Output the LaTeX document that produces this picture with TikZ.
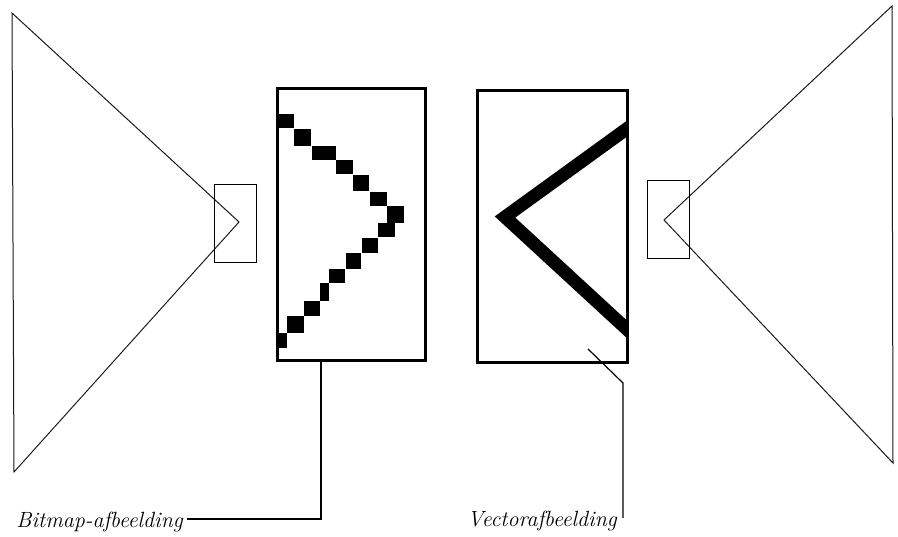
\documentclass[tikz,border=0pt]{standalone}
\begin{document}
\begin{tikzpicture}[x=1pt,y=-1pt,
  frame/.style={draw,line width=3pt,inner sep=0pt,minimum width=148pt,minimum height=272pt},
  eyebox/.style={draw,line width=0.8pt,inner sep=0pt,minimum width=42pt,minimum height=78pt},
  beam/.style={black!90,line width=1pt},
  leader/.style={line width=1.2pt},
  lbl/.style={font=\fontsize{22}{26}\selectfont\itshape,inner sep=0pt}]
  \useasboundingbox (0,0) rectangle (898,537);
  % left projector
  \draw[beam] (12,13) -- (14,472) -- (239,222) -- cycle;
  \node[eyebox] (lefteye) at (235,223) {};
  % right projector
  \draw[beam] (892,6) -- (893,463) -- (664,220) -- cycle;
  \node[eyebox] (righteye) at (668,219) {};
  % bitmap image
  \foreach \xa/\ya/\xb/\yb in {277/114/294/128, 294/129/311/146, 312/146/336/160,
      336/160/353/174, 353/175/369/191, 370/192/387/206, 387/206/404/223,
      378/223/395/237, 362/238/378/253, 346/253/361/269, 329/269/345/283,
      320/283/329/301, 304/301/320/316, 287/316/304/333, 277/333/287/348}
    \fill (\xa,\ya) rectangle (\xb,\yb);
  \node[frame] (bitmap) at (351,225) {};
  % vector image
  \begin{scope}
    \clip (478,92) rectangle (626,361);
    \draw[line width=13pt,miter limit=4] (632,125) -- (505,217) -- (632,334);
  \end{scope}
  \node[frame,minimum width=150pt] (vector) at (552,226.5) {};
  % labels
  \node[lbl,anchor=base east] (bmlabel) at (183,528) {Bitmap-afbeelding};
  \node[lbl,anchor=base east] (vclabel) at (617,526) {Vectorafbeelding};
  \coordinate (bmfoot) at (321,362);
  \coordinate (bmknee) at (321,519);
  \draw[leader] (bmfoot) -- (bmknee) -- ([xshift=4pt]bmlabel.east |- bmknee);
  \coordinate (vcstart) at (588,349);
  \coordinate (vcknee) at (623,383);
  \coordinate (vcend) at (623,518);
  \draw[leader] (vcstart) -- (vcknee) -- (vcend);
\end{tikzpicture}
\end{document}
